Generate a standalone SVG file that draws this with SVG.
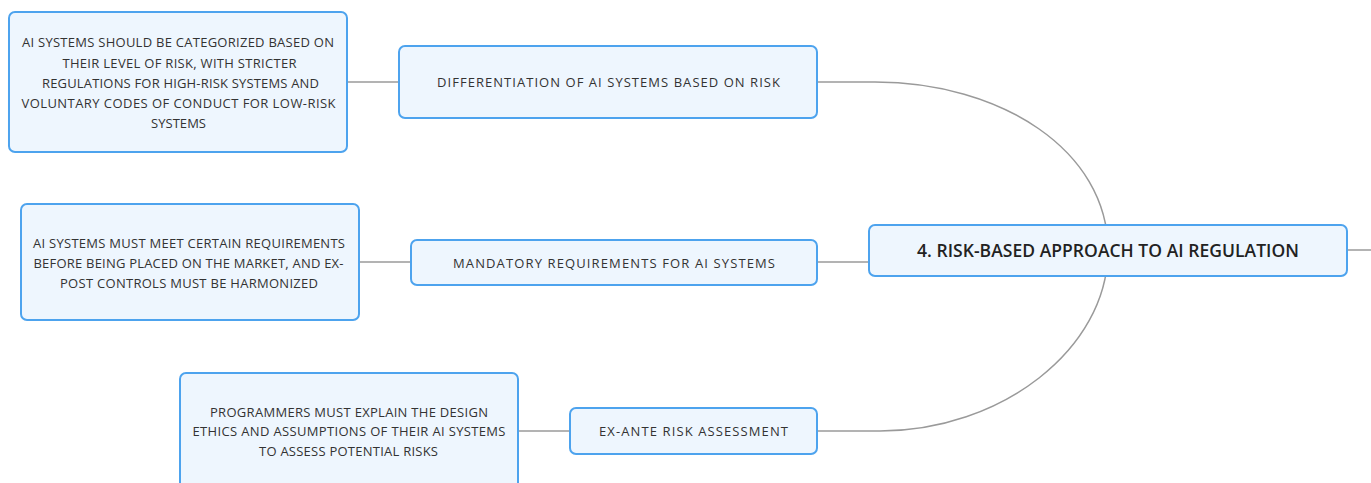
<svg xmlns="http://www.w3.org/2000/svg" width="1371" height="483" viewBox="0 0 1371 483">
<style>
.box{fill:#EEF6FE;stroke:#4DA3EE;stroke-width:2}
.t{font-family:"Open Sans","Liberation Sans",sans-serif;font-size:13px;fill:#333;text-anchor:middle;dominant-baseline:central}
.c{font-family:"Open Sans","Liberation Sans",sans-serif;font-size:17.5px;font-weight:600;fill:#222;text-anchor:middle;dominant-baseline:central}
.ln{fill:none;stroke:#9A9A9A;stroke-width:1.5}
</style>
<rect width="1371" height="483" fill="#fff"/>
<g id="connectors">
<path class="ln" d="M347,82 H399"/>
<path class="ln" d="M817,82 H875 C1000,82 1108,150 1108,250"/>
<path class="ln" d="M359,262 H411"/>
<path class="ln" d="M817,262 H869"/>
<path class="ln" d="M518,431 H570"/>
<path class="ln" d="M817,431 H880 C1000,431 1108,350 1108,250"/>
<path class="ln" d="M1347,250 H1371"/>
</g>
<g id="central">
<rect class="box" x="869" y="225" width="478" height="51" rx="6"/>
<text class="c" x="1108" y="250" textLength="382">4. RISK-BASED APPROACH TO AI REGULATION</text>
</g>
<g id="differentiation">
<rect class="box" x="399" y="46" width="418" height="72" rx="6"/>
<text class="t" x="608.5" y="82" textLength="343">DIFFERENTIATION OF AI SYSTEMS BASED ON RISK</text>
</g>
<g id="differentiation-detail">
<rect class="box" x="9" y="12" width="338" height="140" rx="6"/>
<text class="t" x="178" y="42" textLength="312">AI SYSTEMS SHOULD BE CATEGORIZED BASED ON</text>
<text class="t" x="179.5" y="62.5" textLength="234">THEIR LEVEL OF RISK, WITH STRICTER</text>
<text class="t" x="180.5" y="83" textLength="277">REGULATIONS FOR HIGH-RISK SYSTEMS AND</text>
<text class="t" x="178.5" y="103" textLength="314">VOLUNTARY CODES OF CONDUCT FOR LOW-RISK</text>
<text class="t" x="178.5" y="123" textLength="55">SYSTEMS</text>
</g>
<g id="mandatory">
<rect class="box" x="411" y="240" width="406" height="45" rx="6"/>
<text class="t" x="614" y="262.5" textLength="322">MANDATORY REQUIREMENTS FOR AI SYSTEMS</text>
</g>
<g id="mandatory-detail">
<rect class="box" x="21" y="204" width="338" height="116" rx="6"/>
<text class="t" x="189" y="243" textLength="312">AI SYSTEMS MUST MEET CERTAIN REQUIREMENTS</text>
<text class="t" x="188.5" y="263" textLength="310">BEFORE BEING PLACED ON THE MARKET, AND EX-</text>
<text class="t" x="189" y="283" textLength="258">POST CONTROLS MUST BE HARMONIZED</text>
</g>
<g id="exante">
<rect class="box" x="570" y="408" width="247" height="46" rx="6"/>
<text class="t" x="693.5" y="431" textLength="189">EX-ANTE RISK ASSESSMENT</text>
</g>
<g id="exante-detail">
<rect class="box" x="180" y="373" width="338" height="130" rx="6"/>
<text class="t" x="349" y="411.5" textLength="278">PROGRAMMERS MUST EXPLAIN THE DESIGN</text>
<text class="t" x="349" y="431" textLength="313">ETHICS AND ASSUMPTIONS OF THEIR AI SYSTEMS</text>
<text class="t" x="348.5" y="451" textLength="179">TO ASSESS POTENTIAL RISKS</text>
</g>
</svg>
